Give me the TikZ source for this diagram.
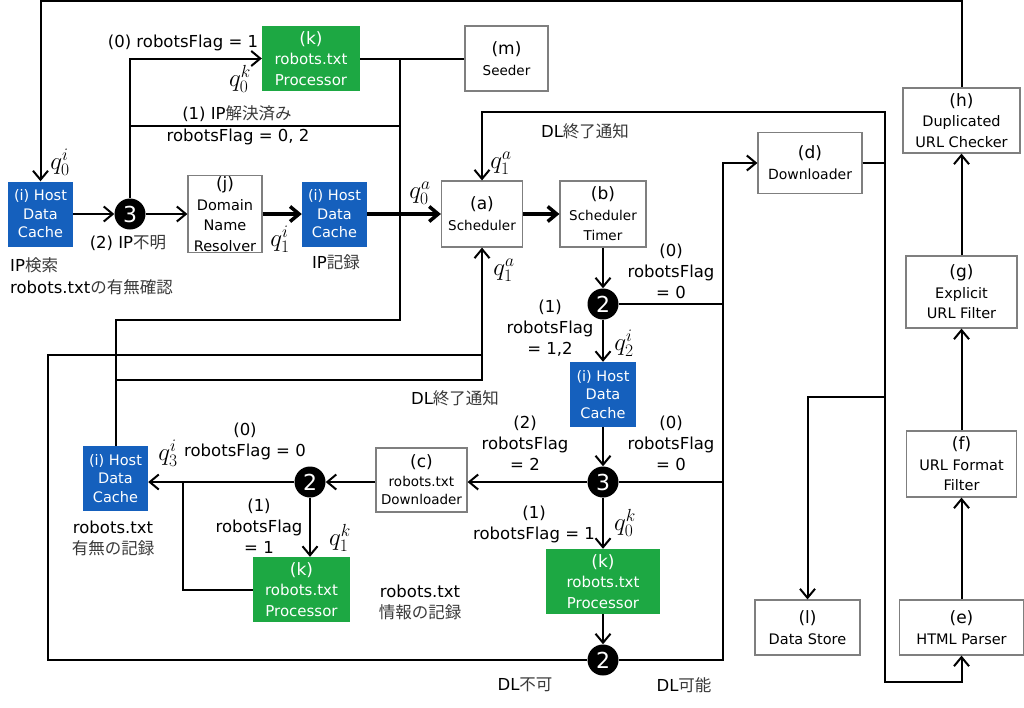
\RequirePackage{fix-cm}
\documentclass[tikz,border=0pt]{standalone}
\usepackage[no-math]{fontspec}
\setmainfont{DejaVu Sans}
\newfontfamily\jpfont{Noto Sans CJK JP}
\usetikzlibrary{arrows.meta,calc}
\definecolor{hostblue}{HTML}{1560BD}
\definecolor{procgreen}{HTML}{1DA843}
\definecolor{boxgray}{HTML}{7F7F7F}
\definecolor{jpgray}{HTML}{3A3A3A}
\newcommand\jp[1]{{\jpfont\color{jpgray}#1}}
\newcommand\lettr[1]{{\fontsize{17}{21}\selectfont #1}}
\tikzset{
 box/.style={draw=boxgray, line width=1.2pt, fill=white, align=center, inner sep=0pt, font=\fontsize{14.5}{20.5}\selectfont},
 hostbox/.style={fill=hostblue, text=white, align=center, inner sep=0pt, minimum width=65pt, minimum height=65pt, font=\fontsize{14.5}{18.5}\selectfont},
 procbox/.style={fill=procgreen, text=white, align=center, inner sep=0pt, minimum height=65pt, font=\fontsize{15}{20.5}\selectfont},
 junc/.style={circle, fill=black, text=white, inner sep=0pt, minimum size=31pt, font=\fontsize{22}{22}\selectfont},
 conn/.style={line width=2pt, line join=miter},
 arr/.style={conn, -{Straight Barb[length=9pt,width=15pt]}},
 thickarr/.style={line width=3.5pt, -{Straight Barb[length=9pt,width=15pt]}},
 lab/.style={align=center, inner sep=0pt, font=\fontsize{16.5}{21}\selectfont},
 ql/.style={inner sep=0pt, font=\fontsize{25}{27}\selectfont},
}
\begin{document}
\begin{tikzpicture}[x=1pt,y=-1pt]
\useasboundingbox[fill=white] (0,0) rectangle (1024,707);

% ---- nodes ----
\node[hostbox] (iL) at (40.5,214) {(i) Host\\Data\\Cache};
\node[junc] (c3a) at (130,214) {3};
\node[box, minimum width=74pt, minimum height=77pt] (j) at (225,214) {\lettr{(j)}\\Domain\\Name\\Resolver};
\node[hostbox] (iM) at (334.5,214) {(i) Host\\Data\\Cache};
\node[box, minimum width=81pt, minimum height=66pt, font=\fontsize{13.5}{21}\selectfont] (a) at (482,214) {\lettr{(a)}\\Scheduler};
\node[box, minimum width=86pt, minimum height=66pt, font=\fontsize{13.5}{20.5}\selectfont] (b) at (603,214) {\lettr{(b)}\\Scheduler\\Timer};
\node[procbox, minimum width=98pt] (kT) at (311,58.5) {\lettr{(k)}\\robots.txt\\Processor};
\node[box, minimum width=83pt, minimum height=65pt, font=\fontsize{13.5}{21}\selectfont] (m) at (506.5,58.5) {\lettr{(m)}\\Seeder};
\node[box, minimum width=104pt, minimum height=61pt, font=\fontsize{14}{21}\selectfont] (d) at (810,163) {\lettr{(d)}\\Downloader};
\node[box, minimum width=117pt, minimum height=65pt] (h) at (961.5,120.5) {\lettr{(h)}\\Duplicated\\URL Checker};
\node[box, minimum width=111pt, minimum height=72pt] (g) at (961.5,292) {\lettr{(g)}\\Explicit\\URL Filter};
\node[box, minimum width=110pt, minimum height=66pt] (f) at (961.5,464) {\lettr{(f)}\\URL Format\\Filter};
\node[box, minimum width=124pt, minimum height=55pt] (e) at (961.5,627.5) {\lettr{(e)}\\HTML Parser};
\node[box, minimum width=105pt, minimum height=55pt] (l) at (807.5,627.5) {\lettr{(l)}\\Data Store};
\node[junc] (c2a) at (603,304) {2};
\node[hostbox, minimum width=66pt] (iR) at (603,394.5) {(i) Host\\Data\\Cache};
\node[junc] (c3b) at (603,482) {3};
\node[box, minimum width=91pt, minimum height=64pt, font=\fontsize{13.5}{18.5}\selectfont] (c) at (421.5,480) {\lettr{(c)}\\robots.txt\\Downloader};
\node[junc] (c2b) at (310,482) {2};
\node[hostbox] (iB) at (115.5,478.5) {(i) Host\\Data\\Cache};
\node[procbox, minimum width=97pt] (kB) at (301.5,589.5) {\lettr{(k)}\\robots.txt\\Processor};
\node[procbox, minimum width=114pt] (kR) at (603,581.5) {\lettr{(k)}\\robots.txt\\Processor};
\node[junc] (c2c) at (603,660) {2};

% ---- helper coordinates ----
\coordinate (busTop) at (400,58.5);
\coordinate (busBot) at (400,320);
\coordinate (bus126) at (400,126);
\coordinate (dl1) at (482,355);
\coordinate (dl2) at (482,380);
\coordinate (outerTL) at (48,355);
\coordinate (dTop) at (723,163);
\coordinate (rbTop) at (885,112);
\coordinate (rbMid) at (885,397);
\coordinate (rbBot) at (885,682);
\coordinate (kbj) at (183,482);

% ---- connectors ----
\draw[arr] (h.north) -- ++(0,-86) -| (iL.north);
\draw[arr] (iL.east) -- (c3a.west);
\draw[arr] (c3a.east) -- (j.west);
\draw[arr] (c3a.north) |- (kT.west);
\draw[conn] (c3a.north |- bus126) -- (bus126);
\draw[thickarr] (j.east) -- (iM.west);
\draw[thickarr] (iM.east) -- (a.west);
\draw[conn] (kT.east) -- (m.west);
\draw[conn] (busTop) -- (busBot) -| (iB.north);
\draw[arr] (iB.north) |- (dl2) -- (a.south);
\draw[conn] (c2c.west) -| (outerTL) -- (dl1);
\draw[thickarr] (a.east) -- (b.west);
\draw[arr] (b.south) -- (c2a.north);
\draw[arr] (c2c.east) -| (dTop) -- (d.west);
\draw[conn] (c2a.east) -- (c2a -| dTop);
\draw[conn] (c3b.east) -- (c3b -| dTop);
\draw[arr] (c2a.south) -- (iR.north);
\draw[arr] (iR.south) -- (c3b.north);
\draw[arr] (c3b.west) -- (c3b -| c.east);
\draw[arr] (c.west |- c2b) -- (c2b.east);
\draw[arr] (c2b.west) -- (c2b -| iB.east);
\draw[arr] (c2b.south) -- (c2b.south |- kB.north);
\draw[conn] (kB.west) -| (kbj);
\draw[arr] (c3b.south) -- (kR.north);
\draw[arr] (kR.south) -- (c2c.north);
\draw[arr] (d.east) -| (rbTop) -| (a.north);
\draw[arr] (d.east) -| (rbBot) -| (e.south);
\draw[arr] (rbMid) -| (l.north);
\draw[arr] (e.north) -- (f.south);
\draw[arr] (f.north) -- (g.south);
\draw[arr] (g.north) -- (h.south);

% ---- labels ----
\node[ql] (lq0i) at (60,162) {$q_0^i$};
\node[lab] (l0rf1) at (183,43) {(0) robotsFlag = 1};
\node[ql] (lq0k) at (240,79) {$q_0^k$};
\node[lab] (lip1) at (237,114) {(1) IP\jp{解決済み}};
\node[lab] (lip2) at (238,137) {robotsFlag = 0, 2};
\node[lab] (lipu) at (128,243) {(2) IP\jp{不明}};
\node[lab, anchor=west] (lips) at (10,265) {IP\jp{検索}};
\node[lab, anchor=west] (lrob) at (10,287) {robots.txt\jp{の有無確認}};
\node[ql] (lq1i) at (280,239) {$q_1^i$};
\node[lab] (lipr) at (336,262) {IP\jp{記録}};
\node[ql] (lq0a) at (420,193) {$q_0^a$};
\node[ql] (lq1at) at (501,163) {$q_1^a$};
\node[ql] (lq1ab) at (504,270) {$q_1^a$};
\node[lab] (ldl1) at (585,131) {DL\jp{終了通知}};
\node[lab] (lr0a) at (671,271) {(0)\\robotsFlag\\= 0};
\node[lab] (lr12) at (550,328) {(1)\\robotsFlag\\= 1,2};
\node[ql] (lq2i) at (624,343) {$q_2^i$};
\node[lab] (ldl2) at (455,398) {DL\jp{終了通知}};
\node[lab] (lr2) at (525,443) {(2)\\robotsFlag\\= 2};
\node[lab] (lr0b) at (671,443) {(0)\\robotsFlag\\= 0};
\node[lab] (lr1b) at (534,524) {(1)\\robotsFlag = 1};
\node[ql] (lq0k2) at (625,523) {$q_0^k$};
\node[lab] (linfo) at (420,602) {robots.txt\\\jp{情報の記録}};
\node[lab] (lr0c) at (245,441) {(0)\\robotsFlag = 0};
\node[ql] (lq3i) at (168,453) {$q_3^i$};
\node[lab] (lr1c) at (259,526) {(1)\\robotsFlag\\= 1};
\node[ql] (lq1k) at (340,538) {$q_1^k$};
\node[lab] (lumu) at (113,538) {robots.txt\\\jp{有無の記録}};
\node[lab] (ldlng) at (525,685) {DL\jp{不可}};
\node[lab] (ldlok) at (684,685) {DL\jp{可能}};
\end{tikzpicture}
\end{document}
